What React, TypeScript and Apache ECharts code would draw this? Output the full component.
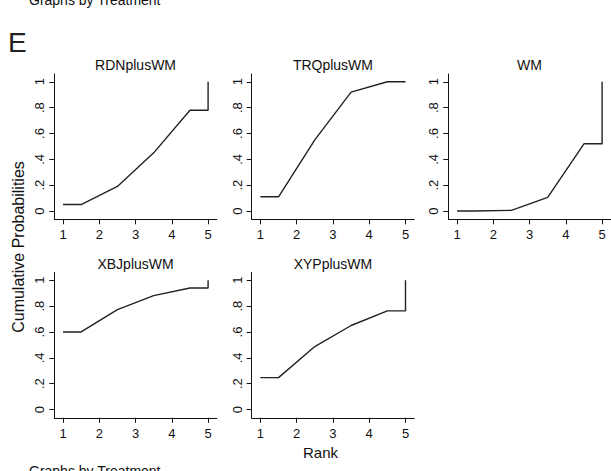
import React, { useEffect, useRef } from "react";
import * as echarts from "echarts";

const treatments = ["RDNplusWM", "TRQplusWM", "WM", "XBJplusWM", "XYPplusWM"];
// cumulative probabilities of being within rank 1..5
const rdnplusWM = [0.05, 0.19, 0.45, 0.78, 1.0];
const trqplusWM = [0.11, 0.55, 0.92, 1.0, 1.0];
const wm = [0.0, 0.005, 0.105, 0.52, 1.0];
const xbjplusWM = [0.6, 0.773, 0.881, 0.94, 1.0];
const xypplusWM = [0.247, 0.487, 0.65, 0.763, 1.0];
const cumulative = [rdnplusWM, trqplusWM, wm, xbjplusWM, xypplusWM];
// Stata sucra-style step positions along rank axis
const stepRanks = [1, 1.5, 2.5, 3.5, 4.5, 5, 5];
const rankTicks = [1, 2, 3, 4, 5];
const probTicks = [0, 0.2, 0.4, 0.6, 0.8, 1];
const probLabels = ["0", ".2", ".4", ".6", ".8", "1"];

const FONT = "'Liberation Sans', Arial, sans-serif";

export default function App() {
  const ref = useRef<HTMLDivElement>(null);
  useEffect(() => {
    if (!ref.current) return;
    const chart = echarts.init(ref.current, undefined, { renderer: "svg" });
    const colLeft = [54.3, 251.7, 448.3];
    const rowTop = [74, 272.5];
    const gw = 162.5;
    const gh = 145.3;
    const grids: any[] = [];
    const xAxes: any[] = [];
    const yAxes: any[] = [];
    const series: any[] = [];
    const graphics: any[] = [];
    treatments.forEach((name, i) => {
      const r = Math.floor(i / 3);
      const c = i % 3;
      grids.push({ left: colLeft[c], top: rowTop[r], width: gw, height: gh, containLabel: false });
      xAxes.push({
        type: "value",
        gridIndex: i,
        min: 0.76,
        max: 5.24,
        splitLine: { show: false },
        axisLine: { onZero: false, lineStyle: { color: "#111", width: 1 } },
        axisTick: { customValues: rankTicks, length: 5, lineStyle: { color: "#111" } },
        axisLabel: { customValues: rankTicks, fontSize: 13, color: "#111", fontFamily: FONT, margin: 9 },
      });
      yAxes.push({
        type: "value",
        gridIndex: i,
        min: -0.064,
        max: 1.06,
        splitLine: { show: false },
        axisLine: { show: true, onZero: false, lineStyle: { color: "#111", width: 1 } },
        axisTick: { show: true, customValues: probTicks, length: 5, lineStyle: { color: "#111" } },
        axisLabel: {
          customValues: probTicks,
          rotate: 90,
          fontSize: 13,
          color: "#111",
          fontFamily: FONT,
          margin: 8,
          formatter: (v: number) => {
            const k = probTicks.findIndex((t) => Math.abs(t - v) < 1e-6);
            return k >= 0 ? probLabels[k] : "";
          },
        },
      });
      const vals = cumulative[i];
      const ys = [vals[0], vals[0], vals[1], vals[2], vals[3], vals[3], vals[4]];
      series.push({
        type: "line",
        xAxisIndex: i,
        yAxisIndex: i,
        data: stepRanks.map((x, k) => [x, ys[k]]),
        showSymbol: false,
        symbol: "none",
        lineStyle: { color: "#222", width: 1.4 },
      });
      graphics.push({
        type: "text",
        x: colLeft[c] + gw / 2,
        y: rowTop[r] - 9,
        style: { text: name, fontSize: 14, fontFamily: FONT, fill: "#111", align: "center", verticalAlign: "middle" },
      });
    });
    graphics.push(
      {
        type: "text",
        x: 8,
        y: 42,
        style: { text: "E", fontSize: 28, fontFamily: FONT, fill: "#222", align: "left", verticalAlign: "middle" },
      },
      {
        type: "text",
        x: 29,
        y: 7,
        style: { text: "Graphs by Treatment", fontSize: 14, fontFamily: FONT, fill: "#111", align: "left", verticalAlign: "bottom" },
      },
      {
        type: "text",
        x: 29,
        y: 464,
        style: { text: "Graphs by Treatment", fontSize: 14, fontFamily: FONT, fill: "#111", align: "left", verticalAlign: "top" },
      },
      {
        type: "text",
        x: 320.5,
        y: 452,
        style: { text: "Rank", fontSize: 15, fontFamily: FONT, fill: "#111", align: "center", verticalAlign: "middle" },
      },
      {
        type: "text",
        x: 18,
        y: 247,
        rotation: Math.PI / 2,
        style: { text: "Cumulative Probabilities", fontSize: 16, fontFamily: FONT, fill: "#111", align: "center", verticalAlign: "middle" },
      }
    );
    chart.setOption({
      animation: false,
      backgroundColor: "#fff",
      grid: grids,
      xAxis: xAxes,
      yAxis: yAxes,
      series,
      graphic: graphics,
    });
    return () => chart.dispose();
  }, []);
  return <div ref={ref} style={{ position: "fixed", left: 0, top: 0, width: 611, height: 471 }} />;
}
